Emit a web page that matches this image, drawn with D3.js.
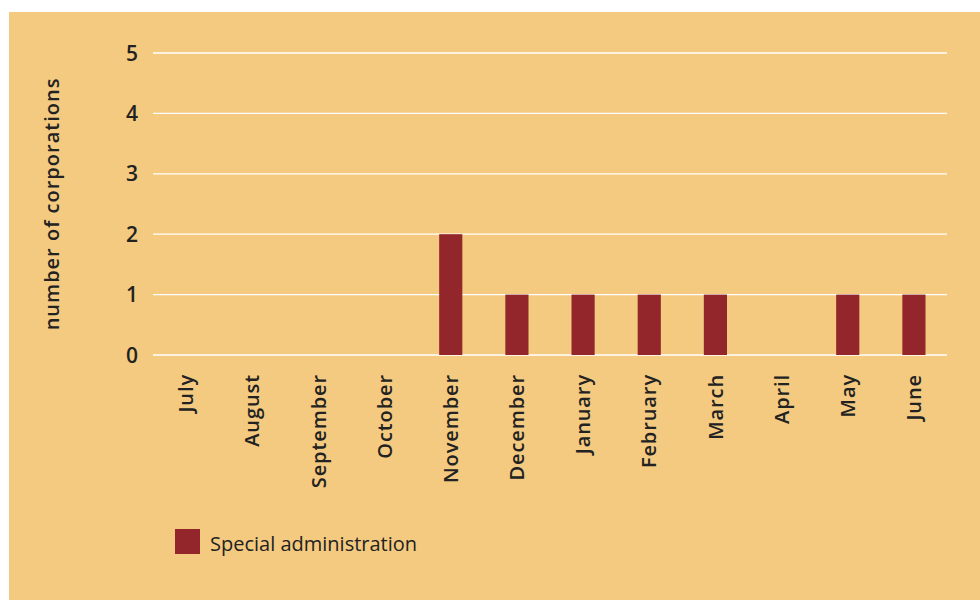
<!DOCTYPE html>
<html><head><meta charset="utf-8">
<script src="https://cdn.jsdelivr.net/npm/d3@7"></script>
<style>body{margin:0;background:#fff;}svg{display:block;font-family:"Open Sans","Noto Sans",sans-serif;}</style>
</head><body>
<svg id="c" width="980" height="605"></svg>
<script>
const months = ["July","August","September","October","November","December","January","February","March","April","May","June"];
const specialAdmin = [0,0,0,0,2,1,1,1,1,0,1,1];
const yTicks = [0,1,2,3,4,5];
const seriesName = "Special administration";

const svg = d3.select("#c");
svg.append("rect").attr("x",9).attr("y",12).attr("width",971).attr("height",588).attr("fill","#F4CA80");

const x = d3.scaleBand().domain(months).range([153,947]).paddingInner(0.65).paddingOuter(0.325);
const y = d3.scaleLinear().domain([0,5]).range([355,53]);

const g = svg.append("g");
g.selectAll("line.grid").data(yTicks).join("line")
 .attr("x1",153).attr("x2",947).attr("y1",d=>y(d)).attr("y2",d=>y(d))
 .attr("stroke","#fff").attr("stroke-width",1.3);

g.selectAll("text.yt").data(yTicks).join("text")
 .attr("x",138).attr("y",d=>y(d)).attr("dy","0.36em").attr("text-anchor","end")
 .attr("font-size",21).attr("font-weight",600).attr("fill","#222").text(d=>d);

g.selectAll("rect.bar").data(months.map((m,i)=>({m,v:specialAdmin[i]}))).join("rect")
 .attr("x",d=>x(d.m)).attr("width",x.bandwidth())
 .attr("y",d=>y(d.v)).attr("height",d=>y(0)-y(d.v)).attr("fill","#93262A");

g.selectAll("text.xl").data(months).join("text")
 .attr("transform",d=>`translate(${x(d)+x.bandwidth()/2},374) rotate(-90)`)
 .attr("dy","0.36em").attr("text-anchor","end").attr("letter-spacing",0.9)
 .attr("font-size",20).attr("font-weight",600).attr("fill","#222").text(d=>d);

svg.append("text").attr("transform","translate(52,204) rotate(-90)")
 .attr("dy","0.36em").attr("text-anchor","middle").attr("letter-spacing",1)
 .attr("font-size",20).attr("font-weight",600).attr("fill","#222").text("number of corporations");

svg.append("rect").attr("x",175).attr("y",529).attr("width",25).attr("height",25).attr("fill","#93262A");
svg.append("text").attr("x",210).attr("y",551).attr("font-size",20).attr("fill","#222").text(seriesName);
</script>
</body></html>
